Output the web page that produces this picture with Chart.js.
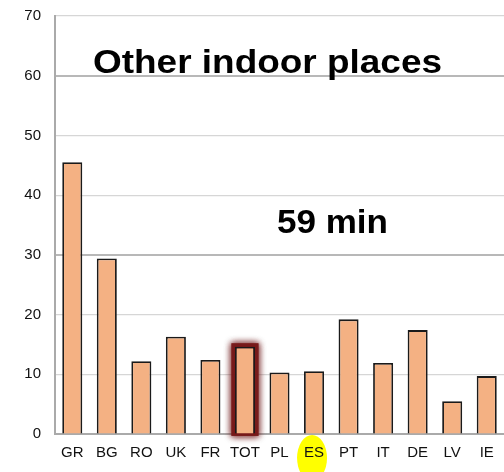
<!DOCTYPE html>
<html>
<head>
<meta charset="utf-8">
<script src="https://cdn.jsdelivr.net/npm/chart.js@4.4.1/dist/chart.umd.min.js"></script>
<style>
  html, body { margin: 0; padding: 0; background: #fff; overflow: hidden; }
  #wrap { width: 504px; height: 472px; }
</style>
</head>
<body>
<div id="wrap"><canvas id="chart" width="504" height="472"></canvas></div>
<script>
const countries = ['GR', 'BG', 'RO', 'UK', 'FR', 'TOT', 'PL', 'ES', 'PT', 'IT', 'DE', 'LV', 'IE'];
const minutes   = [45.5, 29.4, 12.2, 16.3, 12.4, 14.6, 10.3, 10.5, 19.2, 11.9, 17.4, 5.5, 9.7];
const yTicks    = [0, 10, 20, 30, 40, 50, 60, 70];
const titleText = 'Other indoor places';
const totalText = '59 min';
const glowLabel = 'TOT';
const markLabel = 'ES';

const FONT = '"Liberation Sans", Arial, sans-serif';

// yellow blob behind the ES label, drawn before the axes
const highlight = {
    id: 'highlight',
    beforeDraw(chart) {
        const ctx = chart.ctx;
        const x = chart.scales.x.getPixelForValue(countries.indexOf(markLabel));
        const y = chart.chartArea.bottom;
        ctx.save();
        ctx.fillStyle = '#ffff00';
        ctx.beginPath();
        ctx.ellipse(x - 2, y + 24, 15, 23, 0, 0, Math.PI * 2);
        ctx.fill();
        ctx.restore();
    }
};

// dark red glow round the TOT bar
const glow = {
    id: 'glow',
    beforeDatasetsDraw(chart) {
        const el = chart.getDatasetMeta(0).data[countries.indexOf(glowLabel)];
        if (!el) return;
        const ctx = chart.ctx;
        const w = el.width;
        ctx.save();
        ctx.shadowColor = 'rgba(100,10,10,1)';
        ctx.shadowBlur = 7;
        ctx.strokeStyle = 'rgba(120,25,25,0.8)';
        ctx.lineWidth = 5;
        ctx.strokeRect(el.x - w / 2 - 1, el.y - 1, w + 2, el.base - el.y + 1);
        ctx.strokeRect(el.x - w / 2 - 1, el.y - 1, w + 2, el.base - el.y + 1);
        ctx.restore();
    }
};

// big bold labels inside the plot
const labels = {
    id: 'labels',
    afterDraw(chart) {
        const ctx = chart.ctx;
        const draw = (text, x, y, w) => {
            ctx.save();
            ctx.font = 'bold 33px ' + FONT;
            ctx.fillStyle = '#000';
            ctx.textBaseline = 'alphabetic';
            const m = ctx.measureText(text).width;
            ctx.translate(x, y);
            ctx.scale(w / m, 1);
            ctx.fillText(text, 0, 0);
            ctx.restore();
        };
        draw(titleText, 93, 73, 349);
        draw(totalText, 277, 233, 111);
    }
};

new Chart(document.getElementById('chart'), {
    type: 'bar',
    data: {
        labels: countries,
        datasets: [{
            data: minutes,
            backgroundColor: '#f4b183',
            borderColor: '#1a1a1a',
            borderWidth: 1.8,
            barPercentage: 0.58,
            categoryPercentage: 1,
        }]
    },
    options: {
        responsive: false,
        animation: false,
        layout: { padding: { top: 16, right: 0, left: 0, bottom: 0 } },
        plugins: {
            legend: { display: false },
            tooltip: { enabled: false },
        },
        scales: {
            x: {
                grid: { display: false, drawTicks: false },
                border: { color: '#aaaaaa', width: 2 },
                ticks: {
                    color: '#111',
                    font: { family: FONT, size: 15 },
                    padding: 10,
                    maxRotation: 0,
                    autoSkip: false,
                },
                afterFit(scale) {
                    scale.height = 38;
                    scale.paddingLeft = 0;
                    scale.paddingRight = 0;
                },
            },
            y: {
                min: 0,
                max: 70,
                afterBuildTicks(scale) { scale.ticks = yTicks.map(v => ({ value: v })); },
                grid: {
                    drawTicks: false,
                    color: ctx => (ctx.tick && ctx.tick.value % 30 === 0 && ctx.tick.value > 0) ? '#b8b8b8' : '#d6d6d6',
                    lineWidth: ctx => (ctx.tick && ctx.tick.value % 30 === 0 && ctx.tick.value > 0) ? 2 : 1.2,
                },
                border: { color: '#aaaaaa', width: 2 },
                ticks: {
                    color: '#111',
                    font: { family: FONT, size: 15 },
                    padding: 14,
                },
                afterFit(scale) {
                    scale.width = 55;
                    scale.paddingTop = 0;
                    scale.paddingBottom = 0;
                },
            }
        }
    },
    plugins: [highlight, glow, labels]
});
</script>
</body>
</html>
